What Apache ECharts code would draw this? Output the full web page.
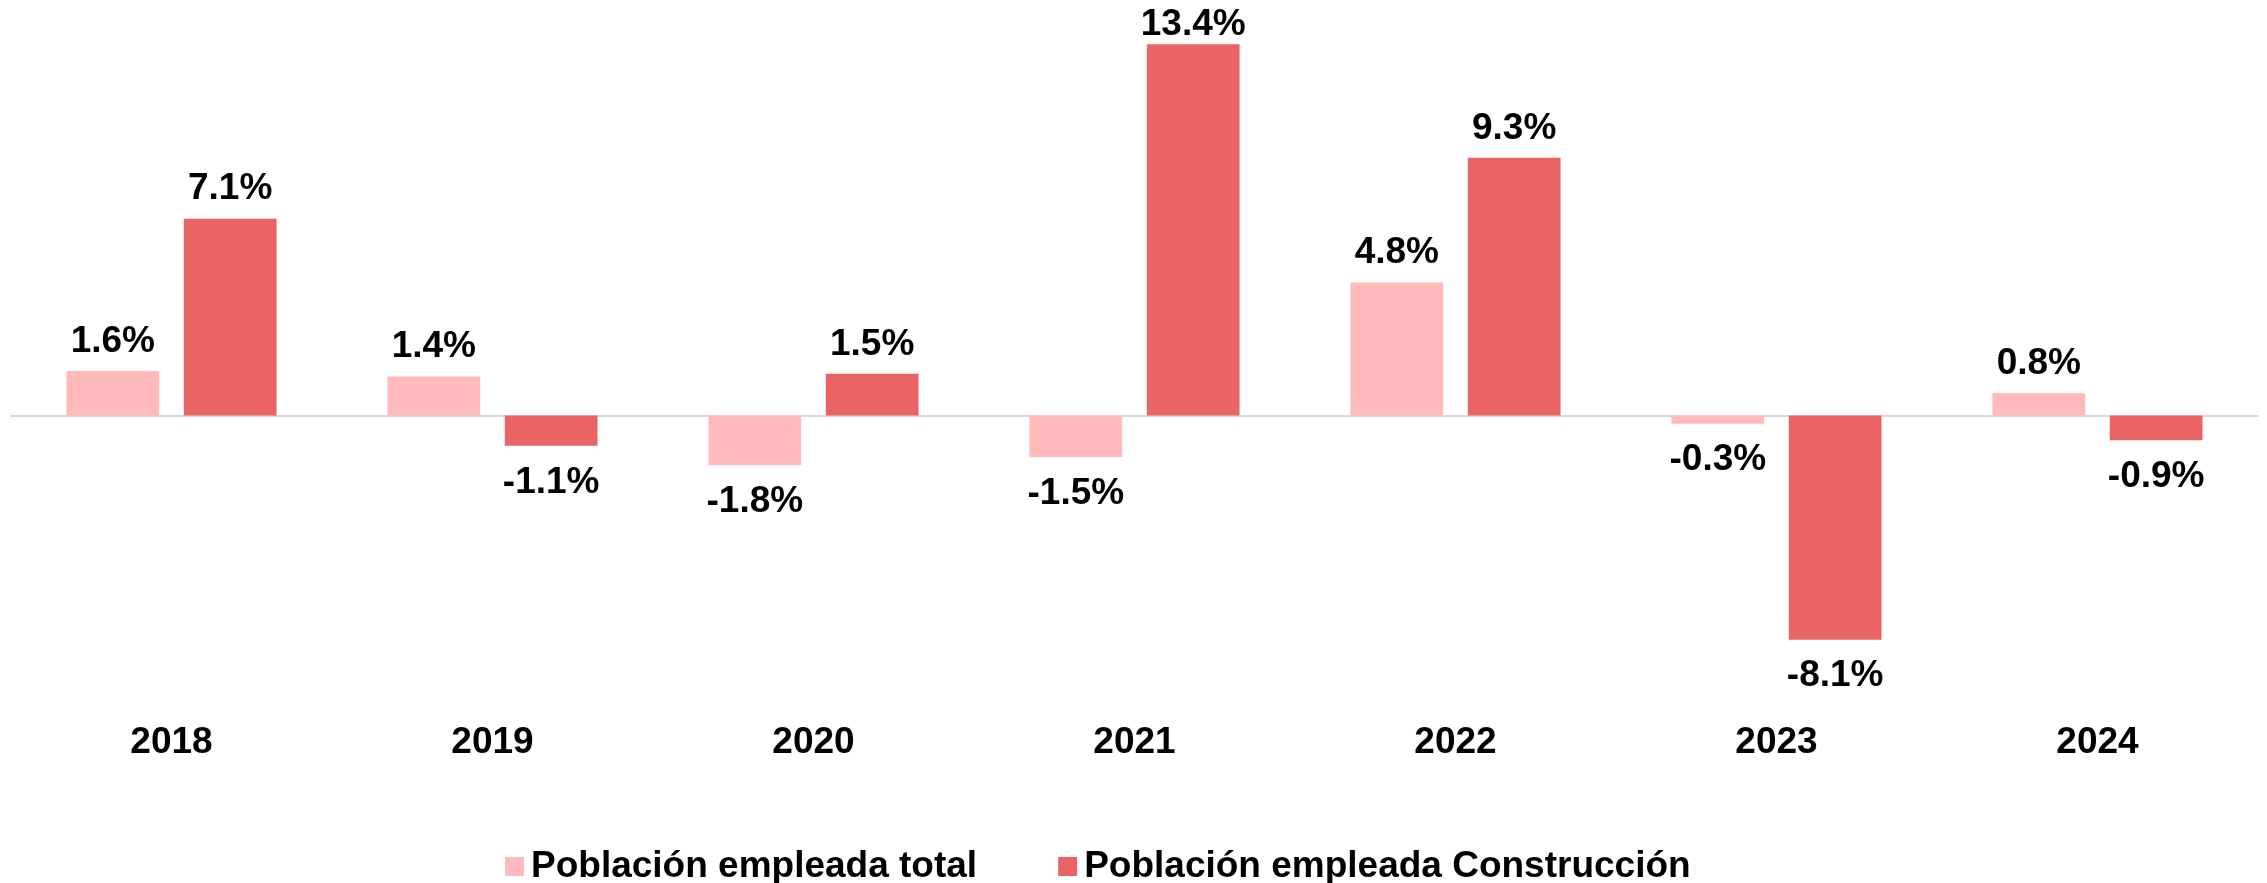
<!DOCTYPE html>
<html style="height:100%;width:100%;">

<head>
  <meta charset="utf-8">
  <title>Población empleada</title>
  <script src="https://cdn.jsdelivr.net/npm/echarts@6/dist/echarts.min.js"></script>
</head>

<body style="margin:0px;height:100%;width:100%;background:#fff;">
  <div id="main" style="width:2267px;height:883px"></div>
  <script type="text/javascript" charset="utf-8">
    // datos
    var years = ['2018', '2019', '2020', '2021', '2022', '2023', '2024'];
    var totalValues = [1.6, 1.4, -1.8, -1.5, 4.8, -0.3, 0.8]; // Población empleada total
    var constrValues = [7.1, -1.1, 1.5, 13.4, 9.3, -8.1, -0.9]; // Población empleada Construcción
    var seriesNames = ['Población empleada total', 'Población empleada Construcción'];
    var colors = ['#FFBBBB', '#EB6465'];

    var fontFam = 'Arial, "Liberation Sans", sans-serif';
    var yMax = 15;

    // etiqueta arriba si es positivo, abajo si es negativo
    // (la barra más alta lleva la etiqueta pegada para no salirse del lienzo)
    function toItems(arr) {
      return arr.map(function (v) {
        var d = v >= 0 ? 11 : 18;
        if (v > yMax - 2) d = 1;
        return {
          value: v,
          label: { position: v >= 0 ? 'top' : 'bottom', distance: d }
        };
      });
    }

    var myChart = echarts.init(document.getElementById("main"));

    var labelStyle = {
      show: true,
      color: '#000',
      fontSize: 37,
      fontWeight: 'bold',
      fontFamily: fontFam,
      formatter: function (p) {
        return p.value.toFixed(1) + '%';
      }
    };

    var option = {
      animation: false,
      color: colors,
      legend: {
        top: 843,
        left: 500,
        itemWidth: 19,
        itemHeight: 19,
        itemGap: 81,
        icon: 'rect',
        textStyle: {
          fontSize: 37,
          fontWeight: 'bold',
          color: '#000',
          fontFamily: fontFam,
          padding: [0, 0, 0, 2]
        },
        data: seriesNames
      },
      grid: {
        left: 11,
        right: 9,
        top: 0,
        height: 720,
        containLabel: false
      },
      xAxis: [{
        type: 'category',
        data: years,
        axisLine: { onZero: true, lineStyle: { color: '#D9D9D9', width: 2 } },
        axisTick: { show: false },
        axisLabel: { show: false }
      }, {
        //solo etiquetas abajo
        type: 'category',
        data: years,
        position: 'bottom',
        axisLine: { show: false, onZero: false },
        axisTick: { show: false },
        axisLabel: {
          margin: 4,
          fontSize: 37,
          fontWeight: 'bold',
          color: '#000',
          fontFamily: fontFam
        }
      }],
      yAxis: {
        type: 'value',
        min: -11,
        max: yMax,
        show: false,
        splitLine: { show: false }
      },
      series: [{
        name: seriesNames[0],
        type: 'bar',
        barWidth: '28.9%',
        barGap: '26.5%',
        label: labelStyle,
        data: toItems(totalValues)
      }, {
        name: seriesNames[1],
        type: 'bar',
        barWidth: '28.9%',
        barGap: '26.5%',
        label: labelStyle,
        data: toItems(constrValues)
      }]
    };

    myChart.setOption(option, true);
  </script>
</body>

</html>
